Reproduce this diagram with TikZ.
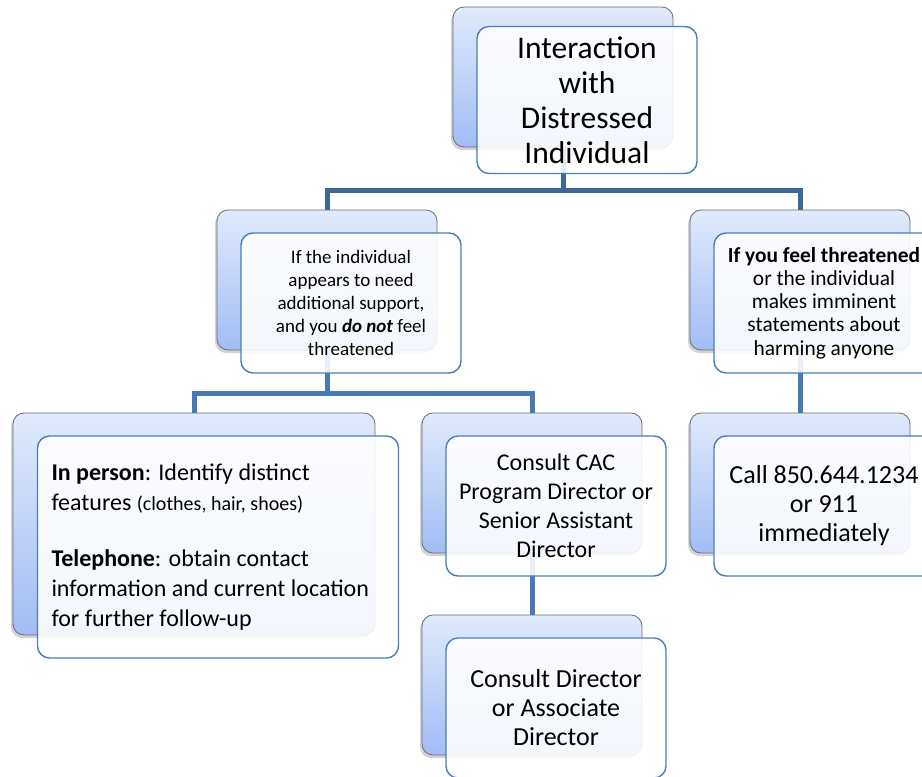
\documentclass[tikz,border=0pt]{standalone}
\usepackage{fontspec}
\setmainfont{Carlito}
\usetikzlibrary{positioning, shadows}

\definecolor{frameblue}{HTML}{4A7EBB}
\definecolor{linedark}{HTML}{3E6997}
\definecolor{lineblue}{HTML}{4A7AB4}
\definecolor{bgtop}{HTML}{E0EAFC}
\definecolor{bgbottom}{HTML}{A2BDF4}

\begin{document}
\begin{tikzpicture}[
            x=1pt, y=-1pt,
            backbox/.style={rectangle, rounded corners=11pt, draw=gray!85!black, line width=0.8pt,
                top color=bgtop, bottom color=bgbottom,
                drop shadow={shadow xshift=-2pt, shadow yshift=-3pt, opacity=0.35},
                minimum width=220pt, minimum height=140pt},
            frontbox/.style={rectangle, rounded corners=12pt, draw=frameblue, line width=1.4pt,
                fill=white, fill opacity=0.88, text opacity=1, align=flush center,
                text width=200pt, inner sep=10pt, minimum height=140pt},
            conn_top/.style={draw=linedark, line width=5pt},
            conn/.style={draw=lineblue, line width=5pt}
        ]
            \useasboundingbox (0,0) rectangle (922,777);

            % back boxes
            \node[backbox] (root_bg) at (563,77) {};
            \node[backbox] (calm_bg) at (327,280) {};
            \node[backbox] (threat_bg) at (800,280) {};
            \node[backbox, minimum width=362pt, minimum height=222pt] (inperson_bg) at (194,524) {};
            \node[backbox] (cac_bg) at (532,483) {};
            \node[backbox] (dir_bg) at (532,685) {};
            \node[backbox] (call_bg) at (800,483) {};

            % connectors
            \draw[conn_top] (root_bg.south) -- ++(0,43) -| (calm_bg.north);
            \draw[conn_top] (root_bg.south) -- ++(0,43) -| (threat_bg.north);
            \draw[conn] (calm_bg.south) -- ++(0,43) -| (inperson_bg.north);
            \draw[conn] (calm_bg.south) -- ++(0,43) -| (cac_bg.north);
            \draw[conn] (threat_bg.south) -- (call_bg.north);
            \draw[conn] (cac_bg.south) -- (dir_bg.north);

            % front boxes
            \node[frontbox, font=\fontsize{31.5}{35}\selectfont] (root) at ([shift={(24,23)}]root_bg.center)
                {Interaction\\ with\\ Distressed\\ Individual};
            \node[frontbox, font=\fontsize{19}{23}\selectfont] (calm) at ([shift={(24,23)}]calm_bg.center)
                {If the individual\\ appears to need\\ additional support,\\ and you \textbf{\textit{do not}} feel\\ threatened};
            \node[frontbox, font=\fontsize{21.4}{23.3}\selectfont] (threat) at ([shift={(24,23)}]threat_bg.center)
                {\textbf{If you feel threatened}\\ or the individual\\ makes imminent\\ statements about\\ harming anyone};
            \node[frontbox, align=flush left, text width=333pt, inner xsep=14pt, minimum height=222pt,
                font=\fontsize{24}{30}\selectfont] (inperson) at ([shift={(24,23)}]inperson_bg.center)
                {\textbf{In person}: Identify distinct\\ features {\fontsize{20}{30}\selectfont(clothes, hair, shoes)}\\[26pt]
                 \textbf{Telephone}: obtain contact\\ information and current location\\ for further follow-up};
            \node[frontbox, font=\fontsize{24}{29}\selectfont] (cac) at ([shift={(24,23)}]cac_bg.center)
                {Consult CAC\\ Program Director or\\ Senior Assistant\\ Director};
            \node[frontbox, font=\fontsize{26}{29}\selectfont] (dir) at ([shift={(24,23)}]dir_bg.center)
                {Consult Director\\ or Associate\\ Director};
            \node[frontbox, font=\fontsize{26}{29}\selectfont] (call) at ([shift={(24,23)}]call_bg.center)
                {Call 850.644.1234\\ or 911\\ immediately};
        \end{tikzpicture}
\end{document}
